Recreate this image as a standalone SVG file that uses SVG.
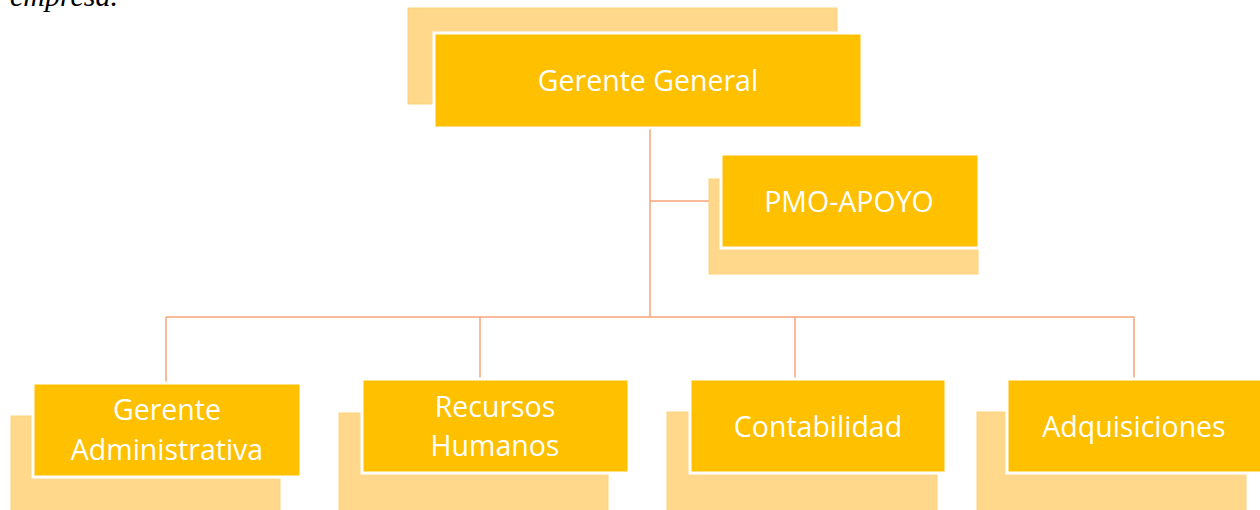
<svg xmlns="http://www.w3.org/2000/svg" width="1260" height="510" viewBox="0 0 1260 510">
<style>
.back{fill:#FFD88C;stroke:#FFD27A;stroke-width:1}
.front{fill:#FFC000;stroke:#FFFFFF;stroke-width:3}
.lbl{fill:#FFFFFF;font-family:"Open Sans","Noto Sans",sans-serif;font-size:28.5px;text-anchor:middle}
.conn{stroke:#F6A57A;stroke-width:1.5;fill:none}
</style>
<rect width="1260" height="510" fill="#FFFFFF"/>
<text x="10" y="6" font-family="Liberation Serif,serif" font-style="italic" font-size="30" fill="#000000">empresa.</text>
<g id="connectors">
<path class="conn" d="M650 127 V317"/>
<path class="conn" d="M650 201 H722"/>
<path class="conn" d="M166 317 H1134"/>
<path class="conn" d="M166 317 V383"/>
<path class="conn" d="M480 317 V380"/>
<path class="conn" d="M795 317 V380"/>
<path class="conn" d="M1134 317 V380"/>
</g>
<g id="gerente-general">
<rect class="back" x="408" y="8" width="429" height="96"/>
<rect class="front" x="434" y="33" width="428" height="95"/>
<text class="lbl" x="648" y="91">Gerente General</text>
</g>
<g id="pmo-apoyo">
<rect class="back" x="709" y="179" width="269" height="95"/>
<rect class="front" x="721" y="154" width="258" height="94"/>
<text class="lbl" x="849" y="212">PMO-APOYO</text>
</g>
<g id="gerente-administrativa">
<rect class="back" x="11" y="416" width="269" height="100"/>
<rect class="front" x="33" y="383" width="268" height="94"/>
<text class="lbl" x="167" y="420">Gerente</text>
<text class="lbl" x="167" y="460">Administrativa</text>
</g>
<g id="recursos-humanos">
<rect class="back" x="339" y="413" width="269" height="100"/>
<rect class="front" x="362" y="379" width="267" height="94"/>
<text class="lbl" x="495" y="417">Recursos</text>
<text class="lbl" x="495" y="456">Humanos</text>
</g>
<g id="contabilidad">
<rect class="back" x="667" y="412" width="270" height="100"/>
<rect class="front" x="690" y="379" width="256" height="94"/>
<text class="lbl" x="818" y="437">Contabilidad</text>
</g>
<g id="adquisiciones">
<rect class="back" x="977" y="412" width="269" height="100"/>
<rect class="front" x="1007" y="379" width="256" height="94"/>
<text class="lbl" x="1134" y="437">Adquisiciones</text>
</g>
</svg>
